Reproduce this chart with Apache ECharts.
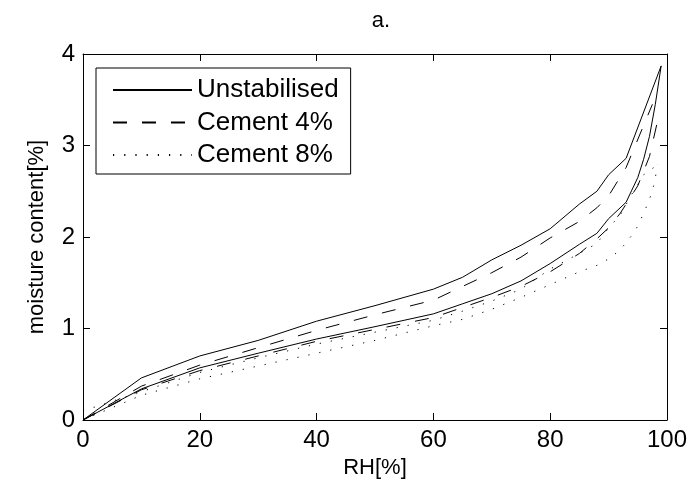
<!DOCTYPE html>
<html>
<head>
<meta charset="utf-8">
<script src="https://cdn.jsdelivr.net/npm/echarts@6/dist/echarts.min.js"></script>
<style>html,body{margin:0;padding:0;background:#fff;}#c{width:693px;height:496px;}</style>
</head>
<body>
<div id="c"></div>
<script>
// Unstabilised: desorption (upper) and adsorption (lower) branches
const unstabUpperRH  = [0, 10, 20, 30, 40, 50, 60, 65, 70, 75, 80, 85, 88, 90, 93, 99];
const unstabUpperMC  = [0, 0.46, 0.70, 0.87, 1.08, 1.25, 1.43, 1.56, 1.75, 1.91, 2.09, 2.36, 2.50, 2.68, 2.86, 3.87];
const unstabLowerRH  = [0, 10, 20, 30, 40, 50, 60, 65, 70, 75, 80, 85, 88, 90, 93, 95, 96, 97, 98, 99];
const unstabLowerMC  = [0, 0.34, 0.57, 0.73, 0.885, 1.02, 1.16, 1.27, 1.38, 1.52, 1.71, 1.92, 2.04, 2.20, 2.38, 2.65, 2.85, 3.10, 3.45, 3.87];
// Cement 4%
const c4UpperRH = [0, 10, 20, 30, 40, 50, 60, 65, 70, 75, 80, 85, 88, 90, 93, 97.5];
const c4UpperMC = [0, 0.37, 0.60, 0.79, 0.98, 1.15, 1.31, 1.46, 1.61, 1.78, 1.99, 2.17, 2.32, 2.45, 2.76, 3.45];
const c4LowerRH = [0, 10, 20, 30, 40, 50, 60, 65, 70, 75, 80, 85, 88, 90, 92, 95, 97, 98.5];
const c4LowerMC = [0, 0.33, 0.54, 0.70, 0.86, 0.99, 1.12, 1.23, 1.34, 1.46, 1.62, 1.82, 1.98, 2.10, 2.26, 2.56, 2.88, 3.30];
// Cement 8%
const c8UpperRH = [0, 10, 20, 30, 40, 50, 60, 65, 70, 75, 80, 85, 88, 90, 92, 94, 96, 98.4];
const c8UpperMC = [0.10, 0.31, 0.52, 0.68, 0.83, 0.96, 1.09, 1.19, 1.30, 1.43, 1.65, 1.82, 1.93, 2.10, 2.24, 2.47, 2.68, 2.79];
const c8LowerRH = [0, 10, 20, 30, 40, 50, 60, 65, 70, 75, 80, 85, 88, 90, 92, 94, 95, 96, 97, 97.8, 98.4];
const c8LowerMC = [0, 0.27, 0.45, 0.59, 0.73, 0.87, 1.03, 1.10, 1.21, 1.34, 1.48, 1.62, 1.69, 1.76, 1.86, 2.02, 2.12, 2.26, 2.41, 2.58, 2.79];

const legendNames = ['Unstabilised', 'Cement 4%', 'Cement 8%'];
const xTicks = [0, 20, 40, 60, 80, 100];
const yTicks = [0, 1, 2, 3, 4];

function pairs(xs, ys) { return xs.map((x, i) => [x, ys[i]]); }

const styles = {
  'Unstabilised': 'solid',
  'Cement 4%': [14, 15],
  'Cement 8%': [1.2, 10]
};

function mk(name, xs, ys) {
  return {
    name: name, type: 'line', data: pairs(xs, ys),
    symbol: 'none', showSymbol: false, animation: false,
    lineStyle: { color: '#000', width: 1, type: styles[name] },
    itemStyle: { color: '#000' }
  };
}

const font = 'Liberation Sans, Arial, Helvetica, sans-serif';
const chart = echarts.init(document.getElementById('c'), null, { renderer: 'canvas' });

function axisParts() {
  return {
    axisLine: { show: true, onZero: false, lineStyle: { color: '#000', width: 1 } },
    axisTick: { show: true, inside: true, length: 7, lineStyle: { color: '#000', width: 1 } },
    splitLine: { show: false }
  };
}

chart.setOption({
  animation: false,
  backgroundColor: '#fff',
  title: {
    text: 'a.', left: 376, top: 5, textAlign: 'center',
    textStyle: { fontFamily: font, fontSize: 22, fontWeight: 'normal', color: '#000' }
  },
  grid: { left: 83, right: 26, top: 54, bottom: 76, containLabel: false },
  legend: {
    data: legendNames.map(n => ({ name: n })),
    orient: 'vertical', left: 96, top: 68,
    itemWidth: 79, itemHeight: 14, itemGap: 6.5, itemGap: 6.5, textGap: 8,
    itemStyle: { opacity: 0 },
    padding: [9, 12, 6, 16],
    borderColor: '#000', borderWidth: 1, backgroundColor: '#fff',
    textStyle: { fontFamily: font, fontSize: 26, lineHeight: 26, color: '#000' },
    selectedMode: false
  },
  xAxis: [
    Object.assign(axisParts(), {
      type: 'value', min: 0, max: 100, interval: 20, position: 'bottom',
      name: 'RH[%]', nameLocation: 'middle', nameGap: 36,
      nameTextStyle: { fontFamily: font, fontSize: 22, color: '#000' },
      axisLabel: { fontFamily: font, fontSize: 24, color: '#000', margin: 8,
        formatter: v => xTicks.includes(v) ? String(v) : '' }
    }),
    Object.assign(axisParts(), {
      type: 'value', min: 0, max: 100, interval: 20, position: 'top',
      axisLabel: { show: false }
    })
  ],
  yAxis: [
    Object.assign(axisParts(), {
      type: 'value', min: 0, max: 4, interval: 1, position: 'left',
      name: 'moisture content[%]', nameLocation: 'middle', nameGap: 35,
      nameTextStyle: { fontFamily: font, fontSize: 22, color: '#000' },
      axisLabel: { fontFamily: font, fontSize: 24, color: '#000', margin: 8,
        formatter: v => yTicks.includes(v) ? String(v) : '' }
    }),
    Object.assign(axisParts(), {
      type: 'value', min: 0, max: 4, interval: 1, position: 'right',
      axisLabel: { show: false }
    })
  ],
  series: [
    mk('Unstabilised', unstabUpperRH, unstabUpperMC),
    mk('Unstabilised', unstabLowerRH, unstabLowerMC),
    mk('Cement 4%', c4UpperRH, c4UpperMC),
    mk('Cement 4%', c4LowerRH, c4LowerMC),
    mk('Cement 8%', c8UpperRH, c8UpperMC),
    mk('Cement 8%', c8LowerRH, c8LowerMC)
  ]
});
</script>
</body>
</html>
